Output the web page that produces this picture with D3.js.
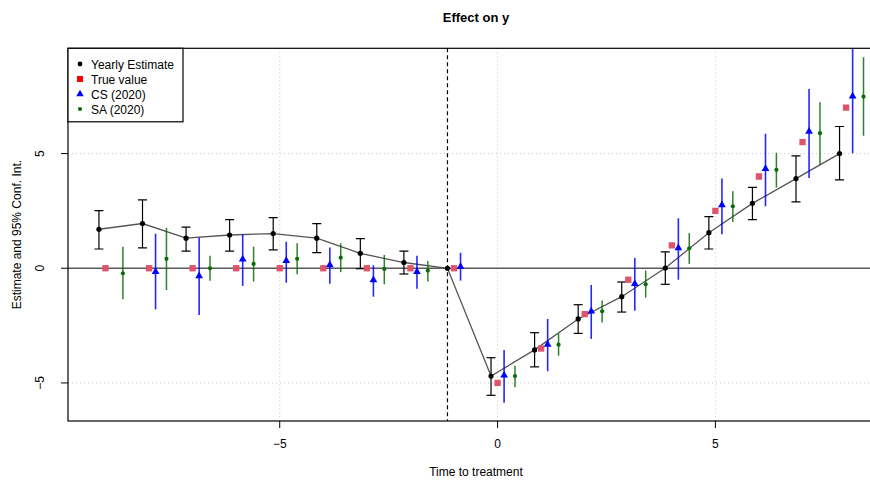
<!DOCTYPE html>
<html>
<head>
<meta charset="utf-8">
<script src="https://cdn.jsdelivr.net/npm/d3@7"></script>
<style>
  body { margin: 0; background: #fff; }
  text { font-family: "Liberation Sans", Arial, sans-serif; }
</style>
</head>
<body>
<script>
const W = 870;
const H = 480;

// periods relative to treatment
const periods = [-9, -8, -7, -6, -5, -4, -3, -2, -1, 0, 1, 2, 3, 4, 5, 6, 7, 8];

// yearly estimate (TWFE) with 95% CI, -1 is the reference
const estY  = [1.70, 1.95, 1.31, 1.45, 1.51, 1.31, 0.65, 0.25, 0, -4.70, -3.56, -2.21, -1.24, 0.01, 1.55, 2.83, 3.91, 5.00];
const estLo = [0.84, 0.89, 0.75, 0.75, 0.80, 0.68, -0.02, -0.25, 0, -5.54, -4.30, -2.84, -1.91, -0.70, 0.84, 2.12, 2.89, 3.85];
const estHi = [2.51, 2.98, 1.79, 2.12, 2.21, 1.95, 1.29, 0.75, 0, -3.90, -2.81, -1.59, -0.60, 0.71, 2.25, 3.53, 4.90, 6.18];

// true effect
const trueY = [0, 0, 0, 0, 0, 0, 0, 0, 0, -5, -3.5, -2, -0.5, 1, 2.5, 4, 5.5, 7];

// Callaway & Sant'Anna
const csPeriods = [-8, -7, -6, -5, -4, -3, -2, -1, 0, 1, 2, 3, 4, 5, 6, 7, 8];
const csY  = [-0.15, -0.34, 0.39, 0.33, 0.14, -0.51, -0.15, 0.07, -4.67, -3.32, -1.88, -0.68, 0.88, 2.76, 4.34, 5.96, 7.50];
const csLo = [-1.79, -2.04, -0.77, -0.63, -0.68, -1.24, -0.89, -0.54, -5.86, -4.49, -3.08, -1.85, -0.50, 1.48, 2.70, 3.94, 5.01];
const csHi = [1.50, 1.34, 1.48, 1.16, 0.90, 0.13, 0.54, 0.68, -3.56, -2.21, -0.73, 0.45, 2.18, 3.91, 5.86, 7.82, 10.5];

// Sun & Abraham
const saPeriods = [-9, -8, -7, -6, -5, -4, -3, -2, 0, 1, 2, 3, 4, 5, 6, 7, 8];
const saY  = [-0.22, 0.41, 0.00, 0.19, 0.41, 0.46, -0.03, -0.10, -4.70, -3.33, -1.88, -0.70, 0.87, 2.70, 4.29, 5.89, 7.48];
const saLo = [-1.35, -0.95, -0.54, -0.58, -0.26, -0.17, -0.70, -0.58, -5.19, -3.81, -2.36, -1.28, 0.19, 2.02, 3.52, 4.51, 5.78];
const saHi = [0.94, 1.77, 0.54, 0.94, 1.09, 1.09, 0.58, 0.32, -4.25, -2.85, -1.41, -0.10, 1.54, 3.36, 5.04, 7.24, 9.20];

const xTicks = [-5, 0, 5];
const yTicks = [-5, 0, 5];
const legendLabels = ["Yearly Estimate", "True value", "CS (2020)", "SA (2020)"];

const COL_EST = "#000";
const COL_TRUE = "#DF536B";
const COL_CS = "#0000ff";
const COL_SA = "#0b6b0b";

const plot = {left: 68, right: 884, top: 48.3, bottom: 421};

const x = d3.scaleLinear().domain([-9.86, 8.87]).range([plot.left, plot.right]);
const y = d3.scaleLinear().domain([-6.66, 9.59]).range([plot.bottom, plot.top]);

const svg = d3.select("body").append("svg")
    .attr("width", W)
    .attr("height", H);

svg.append("defs").append("clipPath").attr("id", "clip")
  .append("rect")
    .attr("x", plot.left).attr("y", plot.top)
    .attr("width", plot.right - plot.left)
    .attr("height", plot.bottom - plot.top);

// grid
const grid = svg.append("g")
    .attr("stroke", "#c8c8c8")
    .attr("stroke-dasharray", "1,3")
    .attr("stroke-width", 1);
grid.selectAll(".gx").data(xTicks).enter().append("line")
    .attr("x1", d => x(d)).attr("x2", d => x(d))
    .attr("y1", plot.top).attr("y2", plot.bottom);
grid.selectAll(".gy").data(yTicks.filter(d => d !== 0)).enter().append("line")
    .attr("x1", plot.left).attr("x2", plot.right)
    .attr("y1", d => y(d)).attr("y2", d => y(d));

// zero line and reference period
svg.append("line")
    .attr("x1", plot.left).attr("x2", plot.right)
    .attr("y1", y(0)).attr("y2", y(0))
    .attr("stroke", "#5a5a5a").attr("stroke-width", 1.6);

svg.append("line")
    .attr("x1", x(-1.15)).attr("x2", x(-1.15))
    .attr("y1", plot.top).attr("y2", plot.bottom)
    .attr("stroke", "#000").attr("stroke-width", 1.2)
    .attr("stroke-dasharray", "4,3");

const g = svg.append("g").attr("clip-path", "url(#clip)");

// yearly estimate
const est = periods.map((p, i) => ({x: p - 0.15, y: estY[i], lo: estLo[i], hi: estHi[i]}));

g.append("path")
    .datum(est)
    .attr("fill", "none")
    .attr("stroke", "#555")
    .attr("stroke-width", 1.3)
    .attr("d", d3.line().x(d => x(d.x)).y(d => y(d.y)));

const estCi = g.append("g").attr("stroke", COL_EST).attr("stroke-width", 1.2);
est.filter(d => d.hi !== d.lo).forEach(d => {
  const cx = x(d.x);
  estCi.append("line").attr("x1", cx).attr("x2", cx).attr("y1", y(d.lo)).attr("y2", y(d.hi));
  estCi.append("line").attr("x1", cx - 4.5).attr("x2", cx + 4.5).attr("y1", y(d.lo)).attr("y2", y(d.lo));
  estCi.append("line").attr("x1", cx - 4.5).attr("x2", cx + 4.5).attr("y1", y(d.hi)).attr("y2", y(d.hi));
});

g.selectAll(".est").data(est).enter().append("circle")
    .attr("cx", d => x(d.x)).attr("cy", d => y(d.y))
    .attr("r", 2.6).attr("fill", COL_EST);

// true value
g.selectAll(".tv").data(periods).enter().append("path")
    .attr("transform", (p, i) => `translate(${x(p)},${y(trueY[i])})`)
    .attr("d", d3.symbol(d3.symbolSquare, 40)())
    .attr("fill", COL_TRUE);

// CS (2020)
const cs = csPeriods.map((p, i) => ({x: p + 0.15, y: csY[i], lo: csLo[i], hi: csHi[i]}));
g.selectAll(".csci").data(cs).enter().append("line")
    .attr("x1", d => x(d.x)).attr("x2", d => x(d.x))
    .attr("y1", d => y(d.lo)).attr("y2", d => y(d.hi))
    .attr("stroke", COL_CS).attr("stroke-opacity", 0.85).attr("stroke-width", 1.6);
g.selectAll(".cs").data(cs).enter().append("path")
    .attr("transform", d => `translate(${x(d.x)},${y(d.y)})`)
    .attr("d", d3.symbol(d3.symbolTriangle, 26)())
    .attr("fill", COL_CS);

// SA (2020)
const sa = saPeriods.map((p, i) => ({x: p + 0.4, y: saY[i], lo: saLo[i], hi: saHi[i]}));
g.selectAll(".saci").data(sa).enter().append("line")
    .attr("x1", d => x(d.x)).attr("x2", d => x(d.x))
    .attr("y1", d => y(d.lo)).attr("y2", d => y(d.hi))
    .attr("stroke", COL_SA).attr("stroke-opacity", 0.85).attr("stroke-width", 1.5);
g.selectAll(".sa").data(sa).enter().append("circle")
    .attr("cx", d => x(d.x)).attr("cy", d => y(d.y))
    .attr("r", 2.1).attr("fill", COL_SA);

// box
svg.append("rect")
    .attr("x", plot.left).attr("y", plot.top)
    .attr("width", plot.right - plot.left)
    .attr("height", plot.bottom - plot.top)
    .attr("fill", "none").attr("stroke", "#000").attr("stroke-width", 1.2);

// x axis
const xAxis = svg.append("g");
xAxis.selectAll("line").data(xTicks).enter().append("line")
    .attr("x1", d => x(d)).attr("x2", d => x(d))
    .attr("y1", plot.bottom).attr("y2", plot.bottom + 7)
    .attr("stroke", "#000");
xAxis.selectAll("text").data(xTicks).enter().append("text")
    .attr("x", d => x(d)).attr("y", 448)
    .attr("text-anchor", "middle").attr("font-size", 12)
    .text(d => d < 0 ? "\u2212" + Math.abs(d) : d);

svg.append("text")
    .attr("x", (plot.left + plot.right) / 2).attr("y", 476)
    .attr("text-anchor", "middle").attr("font-size", 12)
    .text("Time to treatment");

// y axis
const yAxis = svg.append("g");
yAxis.selectAll("line").data(yTicks).enter().append("line")
    .attr("x1", plot.left - 7).attr("x2", plot.left)
    .attr("y1", d => y(d)).attr("y2", d => y(d))
    .attr("stroke", "#000");
yAxis.selectAll("text").data(yTicks).enter().append("text")
    .attr("transform", d => `translate(44,${y(d)}) rotate(-90)`)
    .attr("text-anchor", "middle").attr("font-size", 12)
    .text(d => d < 0 ? "\u2212" + Math.abs(d) : d);

svg.append("text")
    .attr("transform", `translate(21,${(plot.top + plot.bottom) / 2}) rotate(-90)`)
    .attr("text-anchor", "middle").attr("font-size", 12)
    .text("Estimate and 95% Conf. Int.");

// title
svg.append("text")
    .attr("x", (plot.left + plot.right) / 2).attr("y", 22)
    .attr("text-anchor", "middle").attr("font-size", 13).attr("font-weight", "bold")
    .text("Effect on y");

// legend
const legend = svg.append("g");
legend.append("rect")
    .attr("x", plot.left).attr("y", plot.top)
    .attr("width", 115).attr("height", 73.5)
    .attr("fill", "#fff").attr("stroke", "#000").attr("stroke-width", 1.2);

const legendSym = [
  {type: "dot", fill: COL_EST, r: 2.4},
  {type: d3.symbolSquare, fill: "#ff0000", size: 36},
  {type: d3.symbolTriangle, fill: COL_CS, size: 24},
  {type: "dot", fill: COL_SA, r: 2.1}
];

legendLabels.forEach((lab, i) => {
  const ly = 64 + i * 15;
  const s = legendSym[i];
  if (s.type === "dot") {
    legend.append("circle").attr("cx", 80).attr("cy", ly).attr("r", s.r).attr("fill", s.fill);
  } else {
    legend.append("path")
        .attr("transform", `translate(80,${ly})`)
        .attr("d", d3.symbol(s.type, s.size)())
        .attr("fill", s.fill);
  }
  legend.append("text")
      .attr("x", 91).attr("y", ly + 4.5)
      .attr("font-size", 12)
      .text(lab);
});
</script>
</body>
</html>
